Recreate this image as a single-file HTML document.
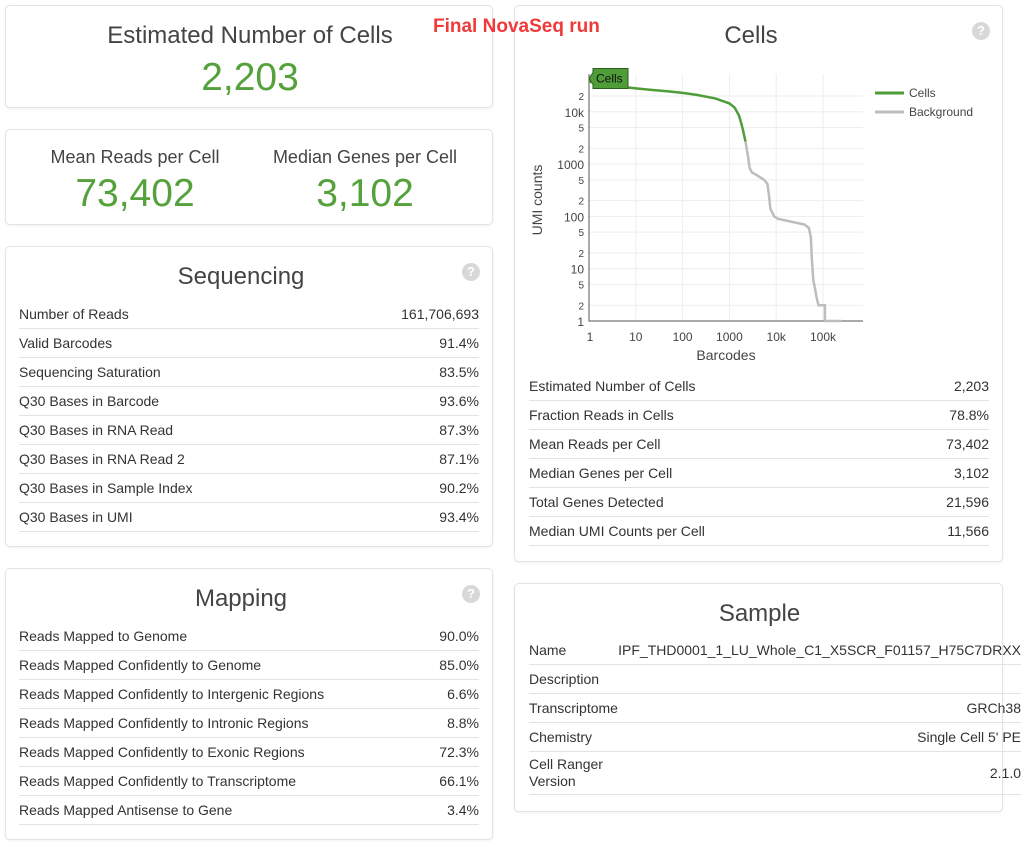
<!DOCTYPE html>
<html><head><meta charset="utf-8">
<style>
*{box-sizing:border-box}
body{margin:0;width:1033px;height:846px;background:#fff;position:relative;overflow:hidden;font-family:"Liberation Sans",sans-serif;color:#333}
.panel{position:absolute;border:1px solid #e3e3e3;border-radius:5px;box-shadow:0 1px 2px rgba(0,0,0,0.06);background:#fff}
.abs{position:absolute;white-space:nowrap}
.title{font-size:24px;color:#444;text-align:center}
.big{color:#55a23c;font-size:39px;text-align:center}
.help{position:absolute;width:18px;height:18px;border-radius:50%;background:#d8d8d8;color:#fff;font-size:13px;font-weight:bold;text-align:center;line-height:18px}
.row{position:absolute;height:29px;border-bottom:1px solid #e2e2e2;font-size:14px}
.row .k{position:absolute;left:0;top:6px}
.row .v{position:absolute;right:0;top:6px}
</style></head><body>

<div class="panel" style="left:5px;top:5px;width:488px;height:103px">
 <div class="abs title" style="left:0;width:488px;top:16px">Estimated Number of Cells</div>
 <div class="abs big" style="left:0;width:488px;top:50px">2,203</div>
</div>

<div class="panel" style="left:5px;top:129px;width:488px;height:96px">
 <div class="abs" style="left:29px;width:200px;text-align:center;top:17px;font-size:18px;color:#444">Mean Reads per Cell</div>
 <div class="abs big" style="left:29px;width:200px;top:42px">73,402</div>
 <div class="abs" style="left:259px;width:200px;text-align:center;top:17px;font-size:18px;color:#444">Median Genes per Cell</div>
 <div class="abs big" style="left:259px;width:200px;top:42px">3,102</div>
</div>

<div class="panel" style="left:5px;top:246px;width:488px;height:301px">
 <div class="abs title" style="left:0;width:470px;top:16px">Sequencing</div>
 <div class="help" style="left:456px;top:16px">?</div>
</div>

<div class="panel" style="left:5px;top:568px;width:488px;height:272px">
 <div class="abs title" style="left:0;width:470px;top:16px">Mapping</div>
 <div class="help" style="left:456px;top:16px">?</div>
</div>

<div class="panel" style="left:514px;top:5px;width:489px;height:557px">
 <div class="abs title" style="left:0;width:472px;top:16px">Cells</div>
 <div class="help" style="left:457px;top:16px">?</div>
</div>

<div class="panel" style="left:514px;top:583px;width:489px;height:229px">
 <div class="abs title" style="left:0;width:489px;top:16px">Sample</div>
</div>

<div class="abs" style="left:433px;top:16px;font-size:19px;font-weight:bold;color:#f03a3a;z-index:10">Final NovaSeq run</div>

<div id="tables"></div>

<svg id="chart" style="position:absolute;left:520px;top:60px" width="480" height="310" font-family="Liberation Sans, sans-serif"></svg>

<script>
// ---------- tables ----------
const seqLabels=["Number of Reads","Valid Barcodes","Sequencing Saturation","Q30 Bases in Barcode","Q30 Bases in RNA Read","Q30 Bases in RNA Read 2","Q30 Bases in Sample Index","Q30 Bases in UMI"];
const seqValues=["161,706,693","91.4%","83.5%","93.6%","87.3%","87.1%","90.2%","93.4%"];
const mapLabels=["Reads Mapped to Genome","Reads Mapped Confidently to Genome","Reads Mapped Confidently to Intergenic Regions","Reads Mapped Confidently to Intronic Regions","Reads Mapped Confidently to Exonic Regions","Reads Mapped Confidently to Transcriptome","Reads Mapped Antisense to Gene"];
const mapValues=["90.0%","85.0%","6.6%","8.8%","72.3%","66.1%","3.4%"];
const cellLabels=["Estimated Number of Cells","Fraction Reads in Cells","Mean Reads per Cell","Median Genes per Cell","Total Genes Detected","Median UMI Counts per Cell"];
const cellValues=["2,203","78.8%","73,402","3,102","21,596","11,566"];
const sampleLabels=["Name","Description","Transcriptome","Chemistry","Cell Ranger<br>Version"];
const sampleValues=["IPF_THD0001_1_LU_Whole_C1_X5SCR_F01157_H75C7DRXX","","GRCh38","Single Cell 5' PE","2.1.0"];

const host=document.getElementById('tables');
function table(labels,values,left,top,width,prefix,heights){
  let y=top;
  labels.forEach((l,i)=>{
    const h=heights?heights[i]:29;
    const r=document.createElement('div');
    r.className='row';
    
    
    r.style.left=left+'px';r.style.top=y+'px';r.style.width=width+'px';r.style.height=h+'px';
    const k=document.createElement('div');k.className='k';k.innerHTML=l;
    
    
    if(h>29){k.style.top='4px';k.style.lineHeight='17px';}
    const v=document.createElement('div');v.className='v';v.textContent=values[i];
    
    
    if(h>29){v.style.top=(h/2-9)+'px';}
    r.appendChild(k);r.appendChild(v);host.appendChild(r);
    y+=h;
  });
}
table(seqLabels,seqValues,19,300,460,'sequencing');
table(mapLabels,mapValues,19,622,460,'mapping');
table(cellLabels,cellValues,529,372,460,'cells-metric');
table(sampleLabels,sampleValues,529,636,492,'sample',[29,29,29,29,43]);

// ---------- chart ----------
const xTickVals=[1,10,100,1000,10000,100000];
const xTickLabels=["1","10","100","1000","10k","100k"];
const yMajorVals=[1,10,100,1000,10000];
const yMajorLabels=["1","10","100","1000","10k"];
const cellsX=[1,2,5,10,20,50,100,200,500,1000,1300,1600,1900,2203];
const cellsY=[38000,33000,30000,28000,26500,24500,23000,21000,18000,14500,12000,8500,5000,2700];
const bgX=[2203,2500,2700,3000,4000,5500,6500,7000,7500,9000,11000,20000,40000,50000,55000,58000,62000,68000,72000,75000,80000,95000,110000,110000,250000];
const bgY=[2700,1400,850,700,600,500,420,250,140,100,90,80,70,60,40,15,6,4,3,2.5,2,2,2,1,1];

const X0=69,DX=46.8,Y0=261,DY=52.3,XR=343,YT=14,YMAXGRID=25000;
const sx=v=>X0+Math.log10(v)*DX;
const sy=v=>Y0-Math.log10(v)*DY;
const svg=document.getElementById('chart');
const NS='http://www.w3.org/2000/svg';
function el(t,a){const e=document.createElementNS(NS,t);for(const k in a)e.setAttribute(k,a[k]);svg.appendChild(e);return e;}

xTickVals.forEach(v=>{
  const g=el('line',{x1:sx(v),x2:sx(v),y1:YT,y2:Y0,stroke:'#eee'});
  
  
});
yMajorVals.forEach((v,i)=>{
  [1,2,5].forEach(m=>{
    const val=v*m; if(val>YMAXGRID)return;
    const g=el('line',{x1:X0,x2:XR,y1:sy(val),y2:sy(val),stroke:'#eee'});
    
    
    const t=el('text',{x:X0-5,y:sy(val)+(m===1?5:4),'text-anchor':'end','font-size':m===1?12:10,fill:'#444'});
    t.textContent=m===1?yMajorLabels[i]:String(m);
    
    
  });
});
const ax=el('path',{d:`M${X0},${YT} V${Y0} H${XR}`,stroke:'#555',fill:'none','stroke-width':1});


xTickVals.forEach((v,i)=>{
  const t=el('text',{x:sx(v)+(i===0?1:0),y:Y0+20,'text-anchor':'middle','font-size':12,fill:'#444'});
  t.textContent=xTickLabels[i];
  
  
});
const xt=el('text',{x:206,y:300,'text-anchor':'middle','font-size':14,fill:'#444'});
xt.textContent='Barcodes';


const yt=el('text',{x:22,y:140,'text-anchor':'middle','font-size':14,fill:'#444',transform:'rotate(-90 22 140)'});
yt.textContent='UMI counts';



function line(xs,ys){
  return xs.map((x,i)=>(i?'L':'M')+sx(x).toFixed(1)+','+sy(ys[i]).toFixed(1)).join(' ');
}
const bg=el('path',{d:line(bgX,bgY),stroke:'#bdbdbd','stroke-width':2.5,fill:'none'});


const cl=el('path',{d:line(cellsX,cellsY),stroke:'#4f9d39','stroke-width':2.5,fill:'none'});



const tx=sx(cellsX[0]),ty=sy(cellsY[0])-3;
const tag=el('path',{d:`M${tx},${ty} l4,-6 v-4 h35 v20 h-35 v-4 z`,fill:'#4f9d39',stroke:'#2c5e20','stroke-width':1});


const tt=el('text',{x:tx+7,y:ty+4,'font-size':12,fill:'#111'});
tt.textContent='Cells';



const legNames=["Cells","Background"],legColors=["#4f9d39","#bdbdbd"];
legNames.forEach((n,i)=>{
  const y=33+i*19;
  const l=el('line',{x1:355,x2:384,y1:y,y2:y,stroke:legColors[i],'stroke-width':3});
  
  
  const t=el('text',{x:389,y:y+4,'font-size':12,fill:'#444'});
  t.textContent=n;
  
  
});
</script>
</body></html>
